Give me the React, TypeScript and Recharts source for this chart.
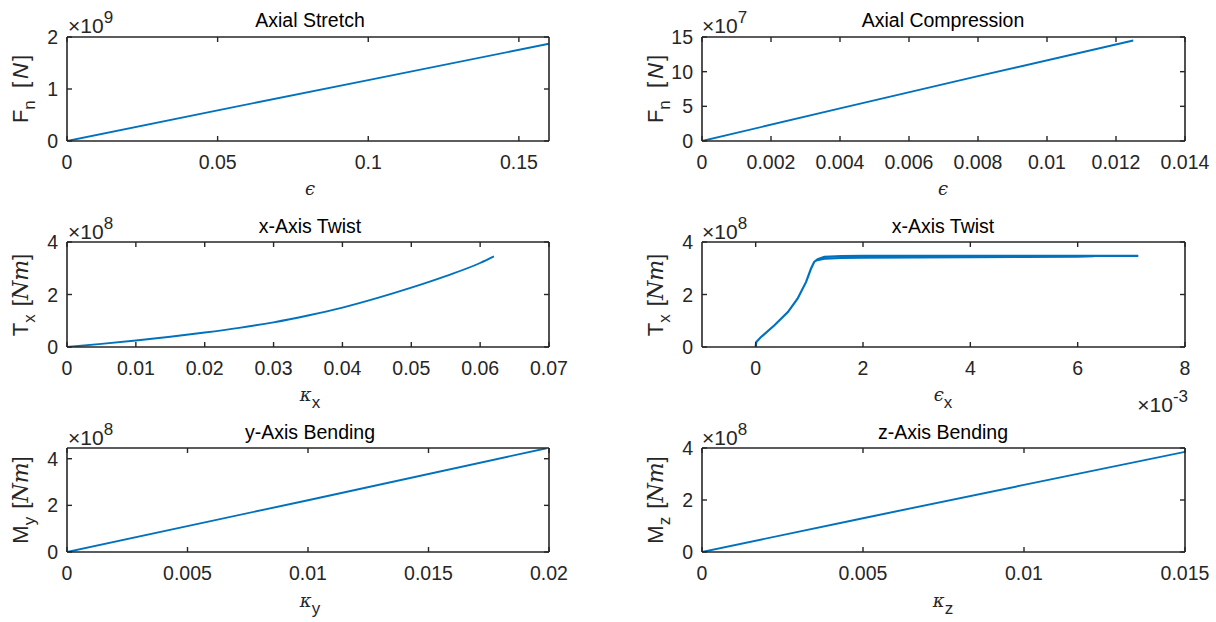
import React from 'react';
import { LineChart, Line, XAxis, YAxis } from 'recharts';

// ---------- data ----------
const stretchStrain = [0, 0.05, 0.1, 0.16];
const stretchForce = [0, 0.59e9, 1.17e9, 1.87e9];
const stretchXTicks = [0, 0.05, 0.1, 0.15];
const stretchYTicks = [0, 1e9, 2e9];

const compStrain = [0, 0.004, 0.008, 0.0125];
const compForce = [0, 4.7e7, 9.35e7, 14.5e7];
const compXTicks = [0, 0.002, 0.004, 0.006, 0.008, 0.01, 0.012, 0.014];
const compYTicks = [0, 5e7, 10e7, 15e7];

const twistCurv = [0, 0.005, 0.01, 0.015, 0.02, 0.025, 0.03, 0.035, 0.04, 0.045, 0.05, 0.055, 0.06, 0.062];
const twistMoment = [0, 0.12e8, 0.25e8, 0.39e8, 0.55e8, 0.73e8, 0.94e8, 1.2e8, 1.5e8, 1.86e8, 2.26e8, 2.7e8, 3.2e8, 3.45e8];
const twistXTicks = [0, 0.01, 0.02, 0.03, 0.04, 0.05, 0.06, 0.07];
const twistYTicks = [0, 2e8, 4e8];

const shearStrain = [0, 0.000012, 0.0001, 0.00035, 0.0006, 0.00078, 0.00094, 0.00103, 0.00109, 0.001155, 0.00128, 0.0016, 0.002, 0.003, 0.004, 0.005, 0.006, 0.00713];
const shearMoment = [0, 0.19e8, 0.38e8, 0.83e8, 1.33e8, 1.84e8, 2.48e8, 2.98e8, 3.24e8, 3.34e8, 3.43e8, 3.46e8, 3.47e8, 3.47e8, 3.47e8, 3.47e8, 3.47e8, 3.47e8];
const shearBandStrain = [0.00113, 0.0013, 0.0016, 0.002, 0.003, 0.004, 0.005, 0.006, 0.0063];
const shearBandMoment = [3.3e8, 3.37e8, 3.39e8, 3.4e8, 3.41e8, 3.42e8, 3.43e8, 3.44e8, 3.46e8];
const shearXTicks = [0, 0.002, 0.004, 0.006, 0.008];
const shearYTicks = [0, 2e8, 4e8];

const bendYCurv = [0, 0.01, 0.0199];
const bendYMoment = [0, 2.22e8, 4.45e8];
const bendYXTicks = [0, 0.005, 0.01, 0.015, 0.02];
const bendYYTicks = [0, 2e8, 4e8];

const bendZCurv = [0, 0.005, 0.01, 0.015];
const bendZMoment = [0, 1.3e8, 2.58e8, 3.85e8];
const bendZXTicks = [0, 0.005, 0.01, 0.015];
const bendZYTicks = [0, 2e8, 4e8];

// ---------- styling ----------
const AXIS = '#262626';
const LINE = '#0072BD';
const FONT = '"Liberation Sans", Arial, Helvetica, sans-serif';
const SERIF = '"DejaVu Serif", "Liberation Serif", serif';
const TICK_FS = 19.5;

const zip = (xs: number[], ys: number[]) => xs.map((x, i) => ({ x, y: ys[i] }));
const fmt = (k: number) => (v: number) => String(+(v / k).toPrecision(10));

const BottomTick = (props: any) => {
  const { x, y, payload, formatter } = props;
  return (
    <g>
      <line x1={x} y1={y} x2={x} y2={y - 5} stroke={AXIS} strokeWidth={1.4} />
      <text x={x} y={y + 28} textAnchor="middle" fill={AXIS} fontSize={TICK_FS} fontFamily={FONT}>
        {formatter(payload.value)}
      </text>
    </g>
  );
};
const LeftTick = (props: any) => {
  const { x, y, payload, formatter } = props;
  return (
    <g>
      <line x1={x} y1={y} x2={x + 5} y2={y} stroke={AXIS} strokeWidth={1.4} />
      <text x={x - 9} y={y + 7} textAnchor="end" fill={AXIS} fontSize={TICK_FS} fontFamily={FONT}>
        {formatter(payload.value)}
      </text>
    </g>
  );
};
const TopTick = (props: any) => {
  const { x, y } = props;
  return <line x1={x} y1={y} x2={x} y2={y + 5} stroke={AXIS} strokeWidth={1.4} />;
};
const RightTick = (props: any) => {
  const { x, y } = props;
  return <line x1={x} y1={y} x2={x - 5} y2={y} stroke={AXIS} strokeWidth={1.4} />;
};

type Series = { data: { x: number; y: number }[]; width?: number; curve?: boolean };

type PanelProps = {
  left: number;
  top: number;
  width: number;
  height: number;
  margin: { top: number; right: number; bottom: number; left: number };
  series: Series[];
  xDomain: [number, number];
  yDomain: [number, number];
  xTicks: number[];
  yTicks: number[];
  xFmt: (v: number) => string;
  yFmt: (v: number) => string;
};

const Panel = (p: PanelProps) => {
  const axisLine = { stroke: AXIS, strokeWidth: 1.6 };
  return (
    <div style={{ position: 'absolute', left: p.left, top: p.top }}>
      <LineChart width={p.width} height={p.height} margin={p.margin}>
        <XAxis
          xAxisId="b"
          type="number"
          dataKey="x"
          orientation="bottom"
          domain={p.xDomain}
          ticks={p.xTicks}
          allowDataOverflow
          interval={0}
          height={60}
          tickSize={0}
          tickMargin={0}
          tickLine={false}
          axisLine={axisLine}
          tick={<BottomTick formatter={p.xFmt} />}
        />
        <XAxis
          xAxisId="t"
          type="number"
          dataKey="x"
          orientation="top"
          domain={p.xDomain}
          ticks={p.xTicks}
          allowDataOverflow
          interval={0}
          height={1}
          tickSize={0}
          tickMargin={0}
          tickLine={false}
          axisLine={axisLine}
          tick={<TopTick />}
        />
        <YAxis
          yAxisId="l"
          type="number"
          dataKey="y"
          orientation="left"
          domain={p.yDomain}
          ticks={p.yTicks}
          allowDataOverflow
          interval={0}
          width={60}
          tickSize={0}
          tickMargin={0}
          tickLine={false}
          axisLine={axisLine}
          tick={<LeftTick formatter={p.yFmt} />}
        />
        <YAxis
          yAxisId="r"
          type="number"
          dataKey="y"
          orientation="right"
          domain={p.yDomain}
          ticks={p.yTicks}
          allowDataOverflow
          interval={0}
          width={1}
          tickSize={0}
          tickMargin={0}
          tickLine={false}
          axisLine={axisLine}
          tick={<RightTick />}
        />
        {p.series.map((s, i) => (
          <Line
            key={'s' + i}
            xAxisId="b"
            yAxisId="l"
            data={s.data}
            dataKey="y"
            type={s.curve ? 'monotone' : 'linear'}
            stroke={LINE}
            strokeWidth={s.width ?? 1.9}
            dot={false}
            activeDot={false}
            isAnimationActive={false}
          />
        ))}
        <Line
          xAxisId="t"
          yAxisId="r"
          data={p.series[0].data}
          dataKey="y"
          stroke="transparent"
          strokeWidth={0}
          dot={false}
          activeDot={false}
          isAnimationActive={false}
        />
      </LineChart>
    </div>
  );
};

// ---------- text overlay ----------
const Title = ({ x, y, children }: any) => (
  <text x={x} y={y} textAnchor="middle" fill="#000" fontSize={19.5} fontFamily={FONT}>
    {children}
  </text>
);

const Exp = ({ x, y, exp, anchor = 'start' }: any) => (
  <text x={x} y={y} textAnchor={anchor} fill={AXIS} fontSize={21} fontFamily={FONT}>
    ×10
    <tspan dy={-10} fontSize={17}>
      {exp}
    </tspan>
  </text>
);

const YLabel = ({ x, y, main, sub, unit, serifUnit }: any) => (
  <text
    x={x}
    y={y}
    transform={`rotate(-90 ${x} ${y})`}
    textAnchor="middle"
    fill={AXIS}
    fontSize={22}
    fontFamily={FONT}
  >
    {main}
    <tspan dy={7} fontSize={17}>
      {sub}
    </tspan>
    <tspan dy={-7} dx={serifUnit ? 2 : 6}> [</tspan>
    <tspan fontStyle="italic" fontFamily={serifUnit ? SERIF : FONT} dx={serifUnit ? 0 : 3} letterSpacing={serifUnit ? 0 : 2}>
      {unit}
    </tspan>
    <tspan>]</tspan>
  </text>
);

const XLabel = ({ x, y, sym, sub }: any) => (
  <text x={x} y={y} textAnchor="middle" fill={AXIS} fontSize={18} fontFamily={SERIF} fontStyle="italic">
    {sym}
    {sub ? (
      <tspan dy={7} fontSize={17} fontFamily={FONT} fontStyle="normal">
        {sub}
      </tspan>
    ) : null}
  </text>
);

export default function App() {
  const colL = { left: 0, width: 608, mLeft: 7, mRight: 58 };
  const colR = { left: 608, width: 608, mLeft: 34, mRight: 30 };
  const rows = [
    { top: 0, height: 207, mTop: 36, mBottom: 6 },
    { top: 207, height: 207, mTop: 34, mBottom: 7 },
    { top: 414, height: 208, mTop: 33, mBottom: 10 },
  ];
  const mk = (c: any, r: any) => ({
    left: c.left,
    top: r.top,
    width: c.width,
    height: r.height,
    margin: { top: r.mTop, right: c.mRight, bottom: r.mBottom, left: c.mLeft },
  });

  return (
    <div style={{ position: 'absolute', left: 0, top: 0, width: 1216, height: 622, background: '#fff', overflow: 'hidden' }}>
      <Panel
        {...mk(colL, rows[0])}
        series={[{ data: zip(stretchStrain, stretchForce) }]}
        xDomain={[0, 0.16]}
        yDomain={[0, 2e9]}
        xTicks={stretchXTicks}
        yTicks={stretchYTicks}
        xFmt={fmt(1)}
        yFmt={fmt(1e9)}
      />
      <Panel
        {...mk(colR, rows[0])}
        series={[{ data: zip(compStrain, compForce) }]}
        xDomain={[0, 0.014]}
        yDomain={[0, 15e7]}
        xTicks={compXTicks}
        yTicks={compYTicks}
        xFmt={fmt(1)}
        yFmt={fmt(1e7)}
      />
      <Panel
        {...mk(colL, rows[1])}
        series={[{ data: zip(twistCurv, twistMoment), curve: true }]}
        xDomain={[0, 0.07]}
        yDomain={[0, 4e8]}
        xTicks={twistXTicks}
        yTicks={twistYTicks}
        xFmt={fmt(1)}
        yFmt={fmt(1e8)}
      />
      <Panel
        {...mk(colR, rows[1])}
        series={[
          { data: zip(shearStrain, shearMoment), width: 2.2 },
          { data: zip(shearBandStrain, shearBandMoment), width: 2.2 },
        ]}
        xDomain={[-0.001, 0.008]}
        yDomain={[0, 4e8]}
        xTicks={shearXTicks}
        yTicks={shearYTicks}
        xFmt={fmt(1e-3)}
        yFmt={fmt(1e8)}
      />
      <Panel
        {...mk(colL, rows[2])}
        series={[{ data: zip(bendYCurv, bendYMoment) }]}
        xDomain={[0, 0.02]}
        yDomain={[0, 4.46e8]}
        xTicks={bendYXTicks}
        yTicks={bendYYTicks}
        xFmt={fmt(1)}
        yFmt={fmt(1e8)}
      />
      <Panel
        {...mk(colR, rows[2])}
        series={[{ data: zip(bendZCurv, bendZMoment) }]}
        xDomain={[0, 0.015]}
        yDomain={[0, 4e8]}
        xTicks={bendZXTicks}
        yTicks={bendZYTicks}
        xFmt={fmt(1)}
        yFmt={fmt(1e8)}
      />

      <svg
        width={1216}
        height={622}
        style={{ position: 'absolute', left: 0, top: 0, pointerEvents: 'none' }}
      >
        <Title x={310} y={27}>Axial Stretch</Title>
        <Title x={943} y={27}>Axial Compression</Title>
        <Title x={310} y={233}>x-Axis Twist</Title>
        <Title x={943} y={233}>x-Axis Twist</Title>
        <Title x={310} y={439}>y-Axis Bending</Title>
        <Title x={943} y={439}>z-Axis Bending</Title>

        <Exp x={68} y={33} exp="9" />
        <Exp x={702} y={33} exp="7" />
        <Exp x={68} y={239} exp="8" />
        <Exp x={702} y={239} exp="8" />
        <Exp x={68} y={445} exp="8" />
        <Exp x={702} y={445} exp="8" />
        <Exp x={1188} y={412} exp="-3" anchor="end" />

        <YLabel x={28} y={89} main="F" sub="n" unit="N" />
        <YLabel x={663} y={89} main="F" sub="n" unit="N" />
        <YLabel x={28} y={295} main="T" sub="x" unit="Nm" serifUnit />
        <YLabel x={663} y={295} main="T" sub="x" unit="Nm" serifUnit />
        <YLabel x={28} y={500} main="M" sub="y" unit="Nm" serifUnit />
        <YLabel x={663} y={500} main="M" sub="z" unit="Nm" serifUnit />

        <XLabel x={310} y={195} sym="ϵ" />
        <XLabel x={943} y={195} sym="ϵ" />
        <XLabel x={310} y={401} sym="κ" sub="x" />
        <XLabel x={943} y={401} sym="ϵ" sub="x" />
        <XLabel x={310} y={607} sym="κ" sub="y" />
        <XLabel x={943} y={607} sym="κ" sub="z" />
      </svg>
    </div>
  );
}
